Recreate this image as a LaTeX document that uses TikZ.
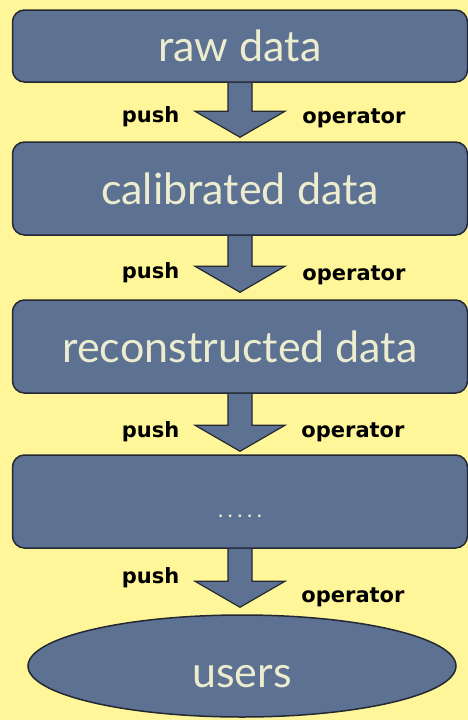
\documentclass[tikz,border=0pt]{standalone}
\usepackage{fontspec}
\setmainfont{Lato}
\newfontfamily\labfont{DejaVu Sans}
\usetikzlibrary{shapes.geometric,calc}
\definecolor{bgyellow}{RGB}{254,246,152}
\definecolor{boxblue}{RGB}{93,113,147}
\definecolor{boxtext}{RGB}{236,236,206}
\definecolor{edgedark}{RGB}{36,40,50}
\tikzset{
  databox/.style={draw=edgedark, line width=1.5pt, fill=boxblue, rounded corners=12pt,
    minimum width=455pt, inner sep=0pt, text=boxtext, font=\fontsize{43}{48}\selectfont},
  userell/.style={ellipse, draw=edgedark, line width=1.5pt, fill=boxblue,
    minimum width=428pt, minimum height=102pt, inner sep=0pt, text=boxtext,
    font=\fontsize{43}{48}\selectfont},
  flowarrow/.style={draw=edgedark, line width=1.2pt, fill=boxblue, line join=miter},
  lab/.style={font=\labfont\bfseries\fontsize{21}{24}\selectfont, text=black,
    inner sep=0pt, anchor=base}
}
\newcommand{\pusharrow}[3]{% from, to, tip gap
  \path[flowarrow] ($(#1.south)+(-12,0)$) -- ($(#1.south |- #2.north)+(-12,-#3-26)$)
    -- ($(#1.south |- #2.north)+(-45,-#3-26)$) -- ($(#1.south |- #2.north)+(0,-#3)$)
    -- ($(#1.south |- #2.north)+(45,-#3-26)$) -- ($(#1.south |- #2.north)+(12,-#3-26)$)
    -- ($(#1.south)+(12,0)$);}
\begin{document}
\begin{tikzpicture}[x=1pt,y=-1pt]
\fill[bgyellow] (0,0) rectangle (468,720);
\useasboundingbox (0,0) rectangle (468,720);
\node[databox, minimum height=72pt] (raw) at (240,46) {raw data};
\node[databox, minimum height=93pt] (cal) at (240,188.5) {calibrated data};
\node[databox, minimum height=93pt] (rec) at (240,346.5) {reconstructed data};
\node[databox, minimum height=93pt, font=\fontsize{22}{24}\selectfont] (dots) at (240,501.5)
  {\raisebox{-15.5pt}[0pt][0pt]{.\kern4.5pt.\kern4.5pt.\kern4.5pt.\kern4.5pt.}};
\node[userell] (users) at (242,666) {\raisebox{-21pt}[0pt][0pt]{users}};
\pusharrow{raw}{cal}{4}
\pusharrow{cal}{rec}{7}
\pusharrow{rec}{dots}{3}
\pusharrow{dots}{users}{7}
\node[lab] (p1) at (150.5,122) {push};
\node[lab] (o1) at (354,123) {operator};
\node[lab] (p2) at (150.5,278) {push};
\node[lab] (o2) at (354,280) {operator};
\node[lab] (p3) at (150.5,437) {push};
\node[lab] (o3) at (353,437) {operator};
\node[lab] (p4) at (150.5,583) {push};
\node[lab] (o4) at (353,602) {operator};
\end{tikzpicture}
\end{document}
